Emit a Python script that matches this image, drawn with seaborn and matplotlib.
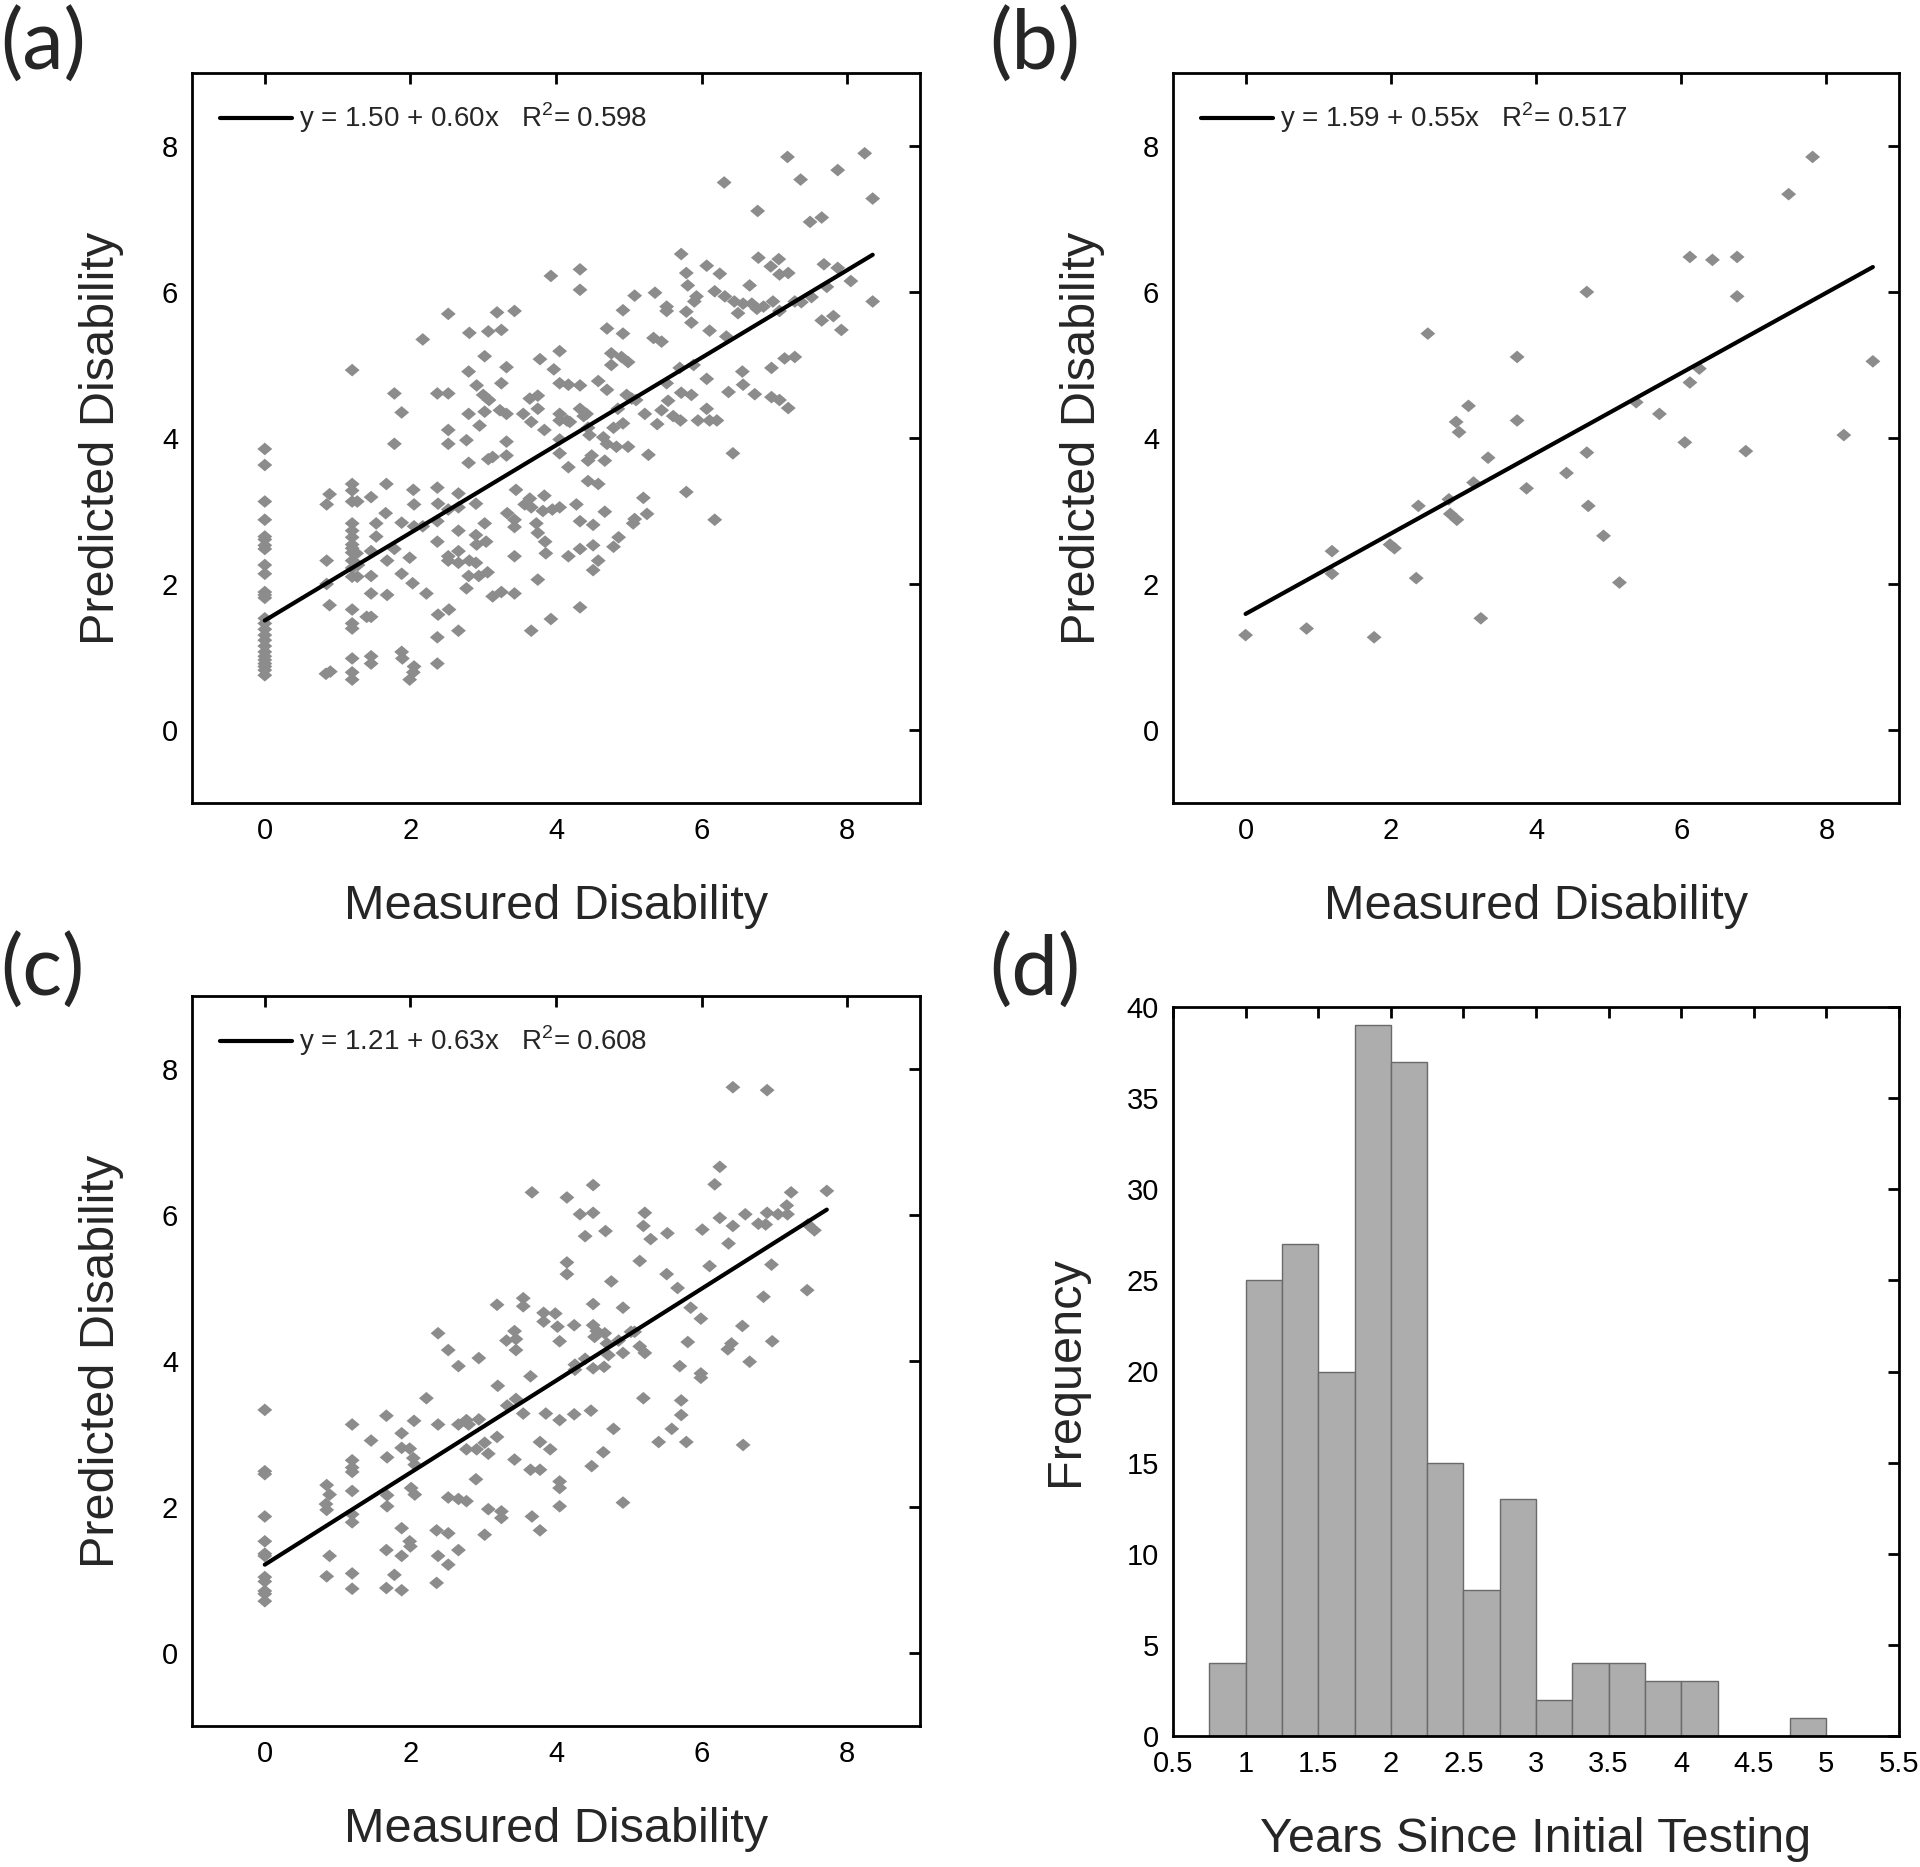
import numpy as np
import pandas as pd
import seaborn as sns
import matplotlib
matplotlib.use('Agg')
import matplotlib.pyplot as plt

# ---- data ----
# panel (a): measured vs predicted disability
a_x = [0.00]*26 + [
    0.85, 0.89, 0.85, 0.85, 0.89, 0.84, 0.90,
    1.20, 1.20, 1.20, 1.20, 1.20, 1.20, 1.20, 1.20, 1.20, 1.20, 1.20, 1.20, 1.20, 1.20, 1.20, 1.20, 1.20, 1.20, 1.20,
    1.27, 1.26, 1.28, 1.27,
    1.46, 1.53, 1.53, 1.46, 1.46, 1.46, 1.46, 1.46, 1.46, 1.40,
    1.67, 1.66, 1.68, 1.68, 1.78, 1.78, 1.88, 1.78, 1.88, 1.88, 1.88, 1.89,
    1.99, 2.03, 2.04, 2.05, 2.05, 1.99, 2.05, 2.04,
    2.17, 2.17, 2.22,
    2.37, 2.38, 2.37, 2.37, 2.38, 2.37, 2.37, 2.37,
    2.52, 2.52, 2.52, 2.52, 2.52, 2.52, 2.52, 2.53,
    2.66, 2.66, 2.66, 2.66, 2.66, 2.66,
    2.77, 2.80, 2.81, 2.80, 2.91, 2.80, 2.90, 2.90, 2.91, 2.81, 2.90, 2.80, 2.77, 2.94, 2.95,
    3.07, 3.02, 3.00, 3.08, 3.02, 3.07, 3.13, 3.02, 3.04, 3.06, 3.13,
    3.19, 3.25, 3.25, 3.23, 3.32, 3.32, 3.32, 3.32, 3.25, 3.43, 3.45, 3.33, 3.43, 3.43, 3.43, 3.43,
    3.55, 3.64, 3.66, 3.75, 3.78, 3.84, 3.75, 3.57, 3.64, 3.66, 3.73, 3.75, 3.82, 3.84, 3.85, 3.86,
    3.75, 3.66, 3.93, 3.93, 3.97, 3.95, 4.05, 4.05, 4.05, 4.05, 4.05, 4.05, 4.05,
    4.33, 4.33, 4.17, 4.33, 4.33, 4.38, 4.42, 4.15, 4.19, 4.44, 4.46, 4.17, 4.44, 4.58, 4.44, 4.49, 4.67,
    4.28, 4.33, 4.51, 4.33, 4.17, 4.51, 4.58, 4.51, 4.33,
    4.58, 4.70, 4.70, 4.76, 4.76, 4.92, 4.92, 4.90, 4.99, 5.08, 5.36, 5.52, 5.52, 5.34, 5.45,
    4.65, 4.70, 4.79, 4.83, 4.99, 4.92, 4.85, 4.97, 5.04, 5.10, 5.22, 5.27, 5.39, 5.45, 5.52, 5.54,
    5.61, 5.70, 5.71, 5.72, 5.86, 5.89, 5.95, 6.07, 6.07, 6.11, 6.21,
    5.20, 5.08, 5.06, 5.25, 4.86, 4.79, 5.79, 6.18, 6.43, 4.67,
    5.72, 5.79, 5.81, 5.93, 5.90, 5.79, 5.86, 6.07, 6.25, 6.11, 6.18, 6.32, 6.34, 6.31,
    6.45, 6.50, 6.57, 6.66, 6.69, 6.76, 6.78, 6.85, 6.95, 6.98, 7.06, 7.07, 7.19, 7.07, 6.77, 7.18,
    7.36, 7.28, 7.37, 7.51, 7.49, 7.65, 7.68, 7.72, 7.65, 7.81, 7.87, 7.92, 7.87, 8.05, 8.24, 8.35, 8.35,
    6.56, 6.57, 6.37, 6.73, 6.96, 6.96, 7.14, 7.28, 7.07, 7.19,
]
a_y = [
    3.85, 3.63, 3.13, 2.88, 2.65, 2.61, 2.53, 2.48, 2.26, 2.14, 1.89, 1.85, 1.81, 1.53, 1.46, 1.38,
    1.30, 1.23, 1.15, 1.07, 1.01, 0.96, 0.91, 0.87, 0.82, 0.75,
    3.09, 3.23, 2.32, 2.00, 1.71, 0.77, 0.80,
    4.93, 3.37, 3.28, 3.13, 2.83, 2.73, 2.64, 2.54, 2.49, 2.43, 2.32, 2.22, 2.10, 1.65, 1.46, 1.39, 0.98, 0.79, 0.69,
    3.13, 2.42, 2.26, 2.10,
    3.19, 2.83, 2.65, 2.45, 2.11, 1.87, 1.55, 1.01, 0.91, 1.55,
    3.37, 2.97, 2.32, 1.85, 2.48, 4.61, 4.35, 3.92, 2.84, 2.14, 1.07, 0.98,
    2.36, 2.01, 3.29, 3.09, 2.79, 0.69, 0.87, 0.79,
    5.35, 2.79, 1.87,
    3.32, 3.10, 2.86, 2.58, 1.58, 1.27, 0.91, 4.61,
    5.70, 4.61, 4.11, 3.92, 3.02, 2.38, 2.32, 1.65,
    1.36, 3.24, 3.05, 2.73, 2.45, 2.29,
    3.97, 3.66, 5.44, 4.91, 4.72, 4.33, 3.10, 2.67, 2.54, 2.32, 2.29, 2.11, 1.94, 2.11, 4.17,
    5.46, 5.12, 4.59, 4.52, 4.36, 3.71, 3.74, 2.83, 2.58, 2.16, 1.83,
    5.72, 5.48, 4.75, 4.38, 4.33, 4.97, 3.95, 3.76, 1.89, 5.74, 3.29, 2.97, 2.88, 2.78, 2.38, 1.87,
    4.33, 4.54, 4.22, 4.58, 5.08, 4.11, 4.40, 3.09, 3.17, 3.05, 2.83, 2.70, 3.00, 3.21, 2.58, 2.42,
    2.06, 1.36, 1.52, 6.22, 4.94, 3.02, 5.19, 4.75, 4.33, 4.24, 3.98, 3.79, 3.05,
    6.31, 6.03, 4.73, 4.72, 4.40, 4.30, 4.33, 4.24, 4.22, 4.14, 4.04, 3.60, 3.41, 3.37, 3.69, 3.76, 3.69,
    3.09, 2.86, 2.81, 2.48, 2.38, 2.53, 2.32, 2.19, 1.68,
    4.78, 4.66, 5.50, 5.16, 5.00, 5.75, 5.43, 5.11, 5.04, 5.95, 5.99, 5.80, 5.74, 5.37, 5.32,
    4.01, 3.92, 4.14, 3.88, 3.88, 4.20, 4.40, 4.59, 4.54, 4.52, 4.33, 3.77, 4.19, 4.38, 4.75, 4.51,
    4.30, 4.96, 4.24, 4.62, 4.59, 5.00, 4.24, 4.40, 4.81, 4.24, 4.24,
    3.18, 2.89, 2.83, 2.96, 2.64, 2.51, 3.26, 2.88, 3.79, 2.99,
    6.52, 6.26, 6.09, 5.94, 5.87, 5.73, 5.58, 6.36, 6.25, 5.47, 6.01, 5.94, 5.39, 7.50,
    5.87, 5.71, 5.84, 6.09, 5.84, 5.77, 6.47, 5.80, 6.35, 5.87, 6.45, 6.24, 6.26, 5.74, 7.11, 7.85,
    7.54, 5.87, 5.86, 5.93, 6.96, 7.02, 6.38, 6.07, 5.61, 5.67, 6.33, 5.48, 7.67, 6.15, 7.90, 7.28, 5.87,
    4.91, 4.73, 4.63, 4.60, 4.96, 4.56, 5.09, 5.11, 4.52, 4.41,
]
a_fit = (1.50, 0.60)
a_label = 'y = 1.50 + 0.60x   R$^2$= 0.598'

# panel (b)
b_x = [0.00, 0.84, 1.19, 1.19, 1.77, 1.99, 2.05, 2.35, 2.38, 2.51, 2.80, 2.82, 2.91, 2.90,
       2.94, 3.07, 3.14, 3.24, 3.34, 3.74, 3.74, 3.87, 4.42, 4.70, 4.70, 4.72, 4.93, 5.15,
       5.38, 5.70, 6.05, 6.12, 6.12, 6.25, 6.43, 6.77, 6.77, 6.89, 7.48, 7.81, 8.24, 8.64]
b_y = [1.30, 1.39, 2.45, 2.14, 1.27, 2.54, 2.49, 2.08, 3.07, 5.43, 3.16, 2.96, 2.88, 4.22,
       4.08, 4.44, 3.39, 1.53, 3.73, 5.11, 4.24, 3.31, 3.52, 6.00, 3.80, 3.07, 2.66, 2.02,
       4.49, 4.33, 3.94, 6.48, 4.76, 4.95, 6.44, 6.48, 5.94, 3.82, 7.34, 7.85, 4.04, 5.05]
b_fit = (1.59, 0.55)
b_label = 'y = 1.59 + 0.55x   R$^2$= 0.517'

# panel (c)
c_x = [0.00]*12 + [
    0.85, 0.89, 0.84, 0.85, 0.89, 0.85,
    1.20, 1.20, 1.20, 1.20, 1.20, 1.20, 1.20, 1.20, 1.20,
    1.46, 1.67, 1.68, 1.68, 1.68, 1.67, 1.67, 1.78, 1.88, 1.88, 1.88, 1.88, 1.88, 1.99, 2.04,
    2.06, 2.01, 2.06, 1.99, 2.00, 2.05, 2.22,
    2.38, 2.38, 2.36, 2.38, 2.36, 2.52, 2.52, 2.52, 2.52, 2.66, 2.66, 2.66, 2.66, 2.77, 2.80,
    2.77, 2.77, 2.90, 2.91, 2.94, 2.94, 3.02, 3.07, 3.02, 3.07, 3.19, 3.20, 3.19, 3.25, 3.25,
    3.32, 3.33, 3.43, 3.45, 3.45, 3.43, 3.45, 3.55, 3.55, 3.55, 3.65, 3.67, 3.65, 3.67, 3.78,
    3.78, 3.78, 3.83, 3.83, 3.86, 3.92, 3.99, 4.02, 4.05, 4.05, 4.05, 4.05, 4.05,
    4.15, 4.51, 4.33, 4.51, 4.40, 4.68, 4.15, 4.15,
    5.22, 5.20, 5.30, 5.53, 6.01, 6.25, 6.43, 6.37, 6.18, 6.25, 6.43, 6.90, 6.60, 6.78, 6.88,
    6.90, 7.05, 7.17, 7.18, 7.23, 7.46, 7.55, 7.72, 7.45, 6.96, 6.85, 6.11, 5.15, 5.52, 5.67,
    5.85, 5.99, 6.56, 6.97, 6.41, 6.36, 6.66, 5.81, 5.70, 5.99, 5.99, 6.57,
    4.76, 4.92, 4.51, 4.51, 4.56, 4.67, 4.25, 5.03, 5.08, 4.86, 4.92, 4.70, 4.72, 4.53, 5.22,
    5.15, 4.40, 4.26, 4.51, 4.66, 4.26, 5.20, 5.72, 5.72, 5.59, 5.41, 5.79, 4.25, 4.48, 4.79,
    4.65, 4.49, 4.92,
]
c_y = [
    3.33, 2.49, 2.45, 1.87, 1.53, 1.36, 1.33, 1.04, 0.98, 0.85, 0.81, 0.71,
    2.30, 2.17, 2.04, 1.96, 1.33, 1.05,
    3.13, 2.64, 2.54, 2.48, 2.22, 1.90, 1.79, 1.09, 0.88,
    2.91, 3.25, 2.68, 2.16, 2.01, 1.41, 0.89, 1.07, 0.86, 3.01, 2.81, 1.71, 1.33, 2.80, 2.67,
    2.58, 2.26, 2.17, 1.53, 1.46, 3.18, 3.49,
    4.38, 3.13, 1.68, 1.33, 0.96, 4.15, 1.64, 1.21, 2.13, 3.93, 3.13, 2.11, 1.41, 3.19, 3.13,
    2.79, 2.08, 2.38, 2.79, 4.04, 3.20, 2.88, 2.73, 1.62, 1.97, 4.77, 3.66, 2.96, 1.94, 1.85,
    4.28, 3.39, 4.41, 4.30, 4.15, 2.65, 3.48, 4.86, 4.75, 3.28, 3.79, 6.31, 2.51, 1.87, 2.51,
    2.89, 1.68, 4.66, 4.54, 3.28, 2.79, 4.65, 4.47, 4.27, 3.19, 2.35, 2.26, 2.01,
    6.24, 6.41, 6.01, 6.03, 5.71, 5.78, 5.35, 5.19,
    6.03, 5.85, 5.67, 5.75, 5.80, 5.96, 5.85, 5.61, 6.42, 6.66, 7.75, 7.71, 6.01, 5.88, 5.87,
    6.03, 6.01, 6.13, 6.01, 6.31, 5.87, 5.79, 6.33, 4.97, 5.32, 4.88, 5.30, 5.37, 5.19, 5.00,
    4.73, 4.58, 4.48, 4.27, 4.24, 4.16, 3.99, 4.26, 3.93, 3.83, 3.77, 2.85,
    5.09, 4.73, 4.78, 4.49, 4.41, 4.38, 4.49, 4.40, 4.40, 4.28, 4.11, 4.24, 4.08, 4.33, 4.11,
    4.20, 4.03, 3.95, 3.90, 3.92, 3.88, 3.49, 3.46, 3.26, 3.07, 2.89, 2.89, 3.27, 3.32, 3.07,
    2.75, 2.56, 2.06,
]
c_fit = (1.21, 0.63)
c_label = 'y = 1.21 + 0.63x   R$^2$= 0.608'

# panel (d): years since initial testing, bins of 0.25
d_edges = [0.75, 1.0, 1.25, 1.5, 1.75, 2.0, 2.25, 2.5, 2.75, 3.0, 3.25, 3.5, 3.75, 4.0, 4.25, 4.5, 4.75, 5.0]
d_counts = [4, 25, 27, 20, 39, 37, 15, 8, 13, 2, 4, 4, 3, 3, 0, 0, 1]

# ---- style ----
sns.set_theme(style='white')
plt.rcParams['font.family'] = ['Liberation Sans', 'DejaVu Sans']
plt.rcParams['mathtext.fontset'] = 'custom'
plt.rcParams['mathtext.rm'] = 'Liberation Sans'
plt.rcParams['axes.linewidth'] = 1.9

W, H = 1920, 1867
fig = plt.figure(figsize=(W / 100, H / 100), dpi=100)


def box(l, t, r, b):
    return [l / W, 1 - b / H, (r - l) / W, (b - t) / H]


ax_a = fig.add_axes(box(192, 73, 920, 803))
ax_b = fig.add_axes(box(1173, 73, 1899, 803))
ax_c = fig.add_axes(box(192, 996, 920, 1726))
ax_d = fig.add_axes(box(1173, 1007, 1899, 1736))

diamond = [(-1, 0), (0, 0.85), (1, 0), (0, -0.85), (-1, 0)]
pt_color = '#8c8c8c'


def style_ticks(ax):
    ax.tick_params(direction='in', length=8, width=2, top=True, right=True,
                   labeltop=False, labelright=False, labelsize=21, pad=10, colors='black')
    for s in ax.spines.values():
        s.set_color('black')
        s.set_linewidth(2)


def scatter_panel(ax, xs, ys, fit, label):
    df = pd.DataFrame({'x': xs, 'y': ys})
    sns.scatterplot(data=df, x='x', y='y', ax=ax, marker=diamond, s=115,
                    color=pt_color, edgecolor='none', linewidth=0)
    xl = np.array([df['x'].min(), df['x'].max()])
    line = pd.DataFrame({'x': xl, 'y': fit[0] + fit[1] * xl})
    sns.lineplot(data=line, x='x', y='y', ax=ax, color='black', linewidth=3, label=label)
    ax.set_xlim(-1, 9)
    ax.set_ylim(-1, 9)
    ax.set_xticks([0, 2, 4, 6, 8])
    ax.set_yticks([0, 2, 4, 6, 8])
    ax.set_xlabel('Measured Disability', fontsize=35, labelpad=28)
    ax.set_ylabel('Predicted Disability', fontsize=35, labelpad=27)
    style_ticks(ax)
    ax.legend(loc='upper left', frameon=False, fontsize=20, handlelength=2.6,
              handletextpad=0.25, borderaxespad=0.6)


scatter_panel(ax_a, a_x, a_y, a_fit, a_label)
scatter_panel(ax_b, b_x, b_y, b_fit, b_label)
scatter_panel(ax_c, c_x, c_y, c_fit, c_label)

# histogram
mids = [(lo + hi) / 2 for lo, hi in zip(d_edges[:-1], d_edges[1:])]
hist_df = pd.DataFrame({'years': mids, 'n': d_counts})
sns.histplot(data=hist_df, x='years', weights='n', bins=d_edges, ax=ax_d,
             color='#adadad', edgecolor='#6a6a6a', linewidth=1.0, alpha=1)
ax_d.set_xlim(0.5, 5.5)
ax_d.set_ylim(0, 40)
ax_d.set_xticks(np.arange(0.5, 5.51, 0.5))
ax_d.set_xticklabels(['0.5', '1', '1.5', '2', '2.5', '3', '3.5', '4', '4.5', '5', '5.5'])
ax_d.set_yticks(range(0, 41, 5))
ax_d.set_xlabel('Years Since Initial Testing', fontsize=35, labelpad=28)
ax_d.set_ylabel('Frequency', fontsize=35, labelpad=28)
style_ticks(ax_d)

# panel letters
for txt, x, y in [('(a)', 0.0, 0.996), ('(b)', 0.515, 0.996), ('(c)', 0.0, 0.5), ('(d)', 0.515, 0.5)]:
    fig.text(x, y, txt, fontsize=60, ha='left', va='top', family=['Lato', 'DejaVu Sans'])

fig.savefig('out.png', dpi=100)
